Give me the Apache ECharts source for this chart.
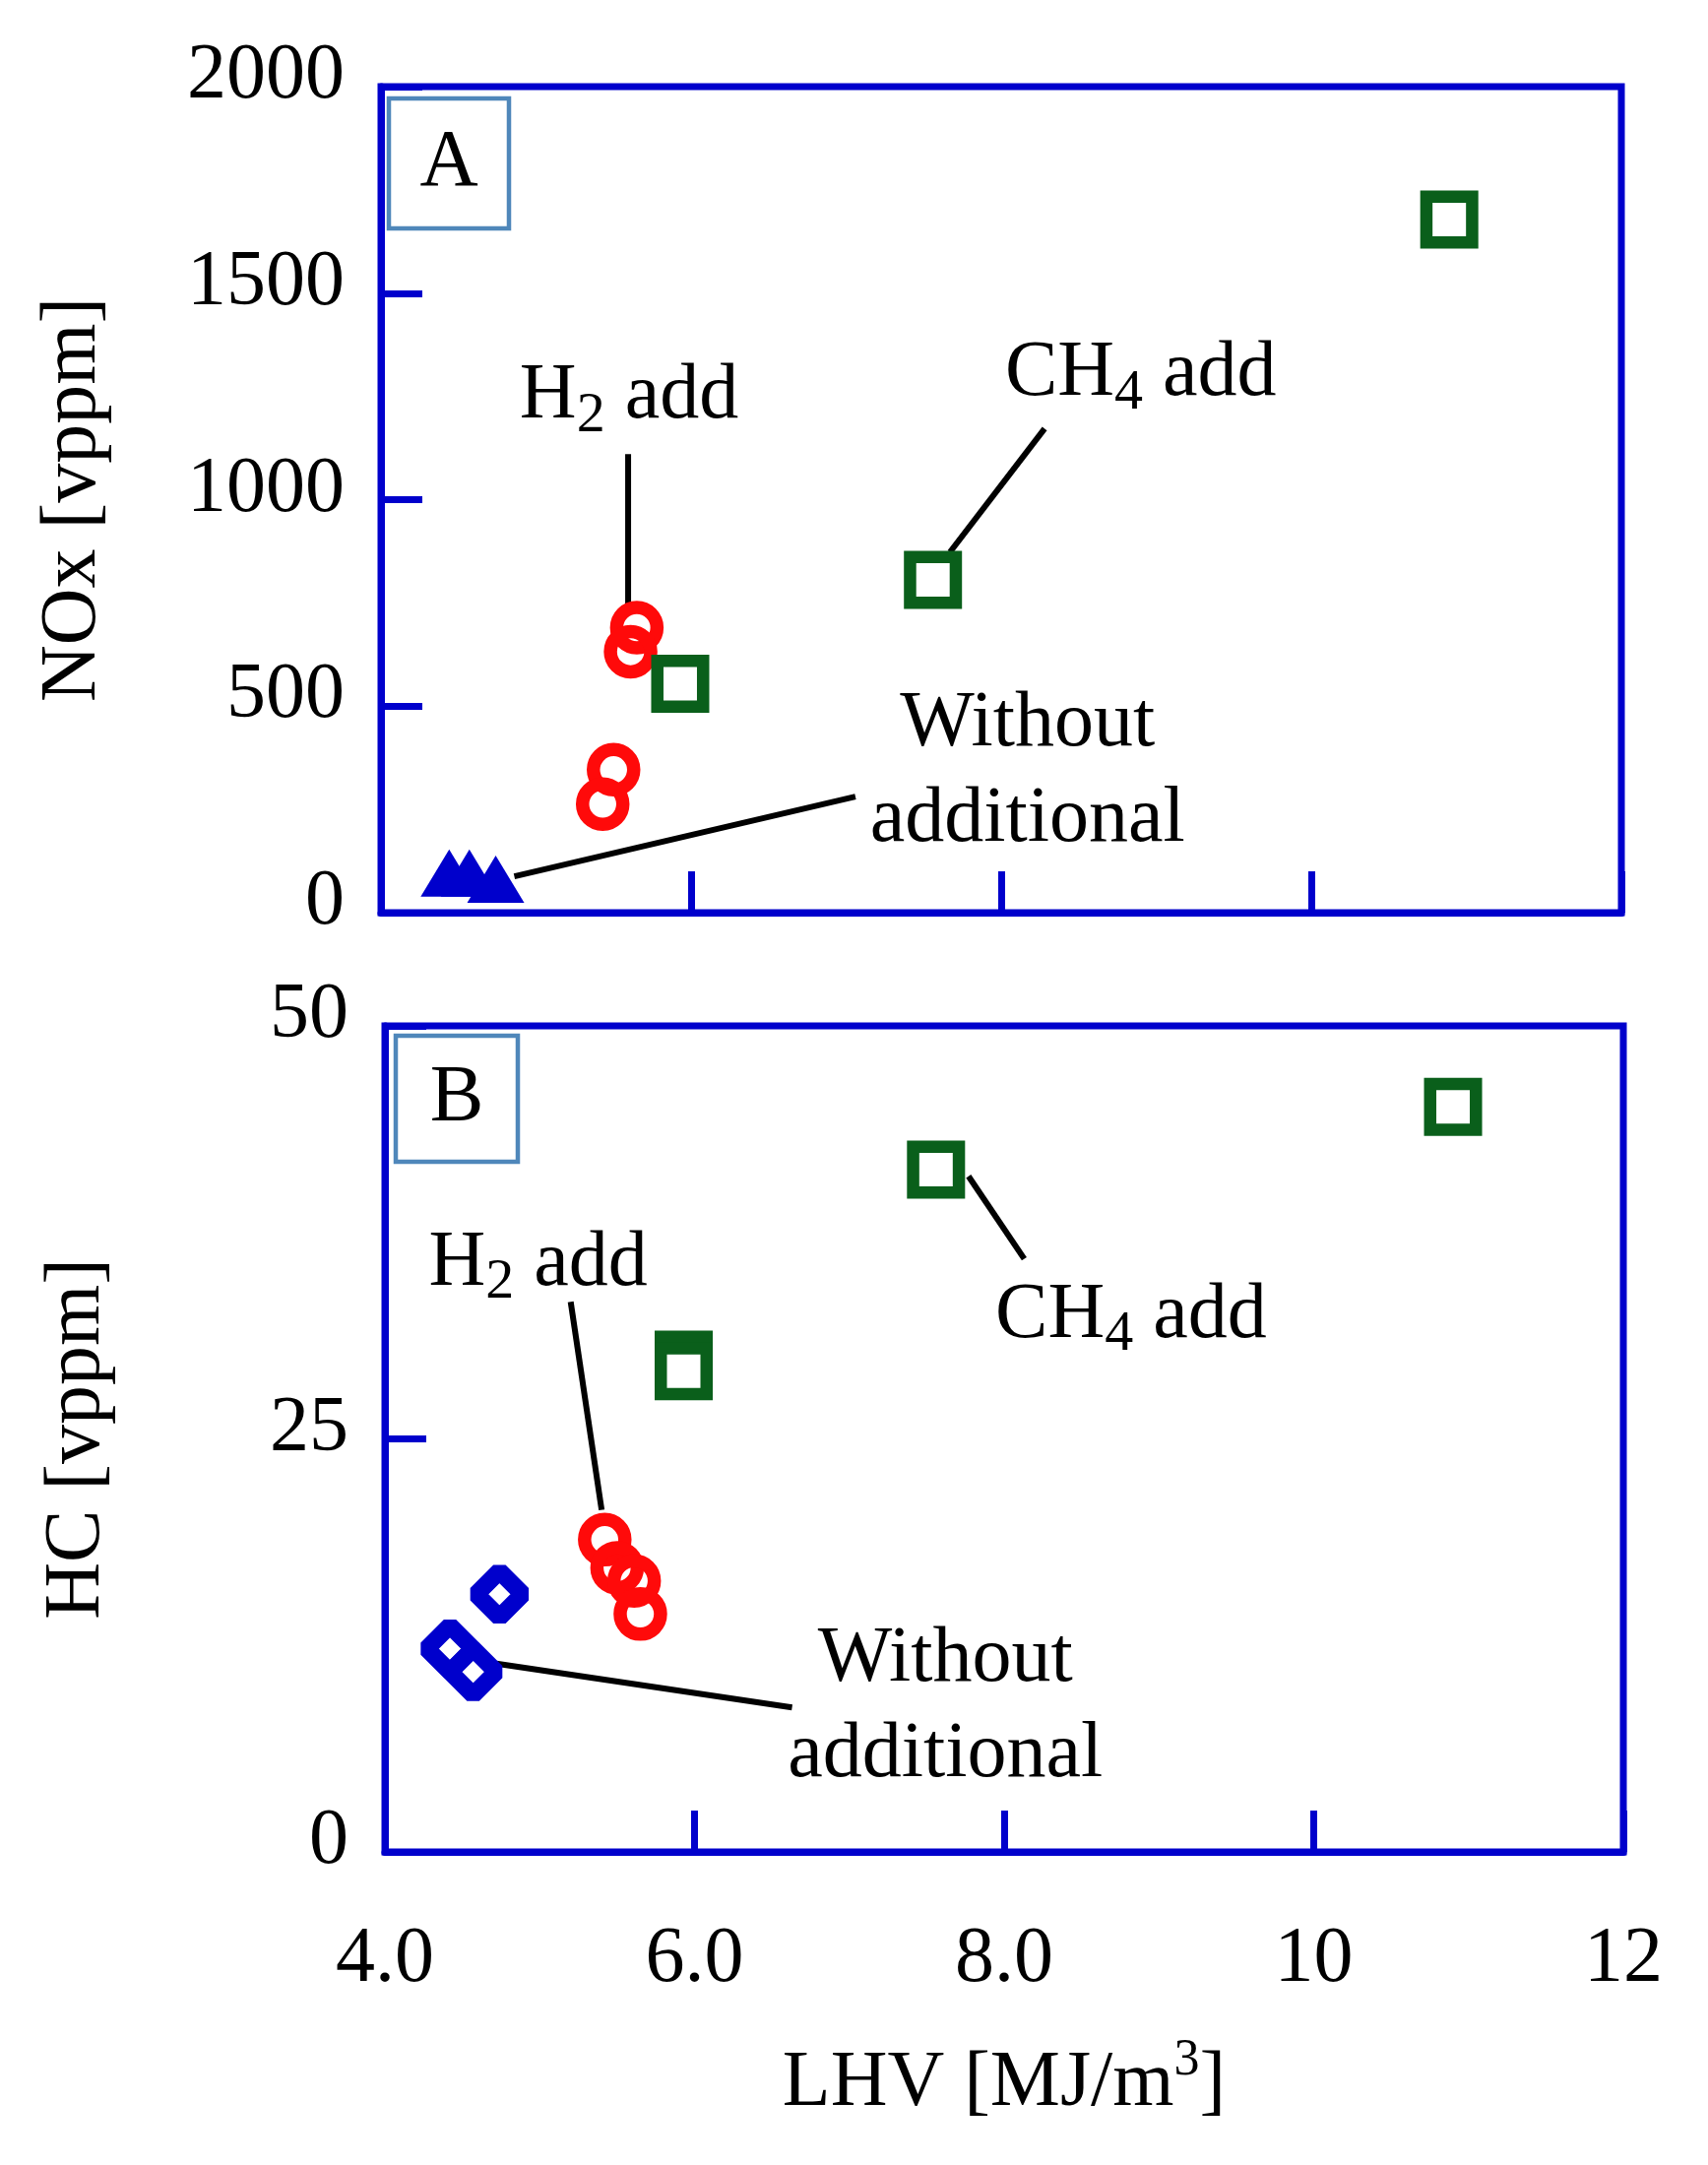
<!DOCTYPE html>
<html><head><meta charset="utf-8">
<script src="https://cdn.jsdelivr.net/npm/echarts@6/dist/echarts.min.js"></script>
<style>html,body{margin:0;padding:0;background:#fff}#c{width:1735px;height:2199px}</style>
</head><body><div id="c"></div>
<script>
// ---- data ----
const xTicks = [4, 6, 8, 10, 12];
const xTickLabels = ['4.0', '6.0', '8.0', '10', '12'];
const noxTicks = [0, 500, 1000, 1500, 2000];
const noxTickLabels = ['0', '500', '1000', '1500', '2000'];
const hcTicks = [0, 25, 50];
const hcTickLabels = ['0', '25', '50'];

// Panel A: NOx
const noxH2X = [5.65, 5.61, 5.50, 5.43];
const noxH2Y = [690, 632, 346, 263];
const noxCH4X = [5.93, 7.56, 10.89];
const noxCH4Y = [554, 806, 1678];
const noxBaseX = [4.44, 4.57, 4.74];
const noxBaseY = [96, 96, 81];

// Panel B: HC
const hcH2X = [5.42, 5.50, 5.61, 5.65];
const hcH2Y = [18.9, 17.2, 16.4, 14.4];
const hcCH4X = [5.93, 5.93, 7.56, 10.90];
const hcCH4Y = [29.8, 29.1, 41.3, 45.1];
const hcBaseX = [4.74, 4.42, 4.57];
const hcBaseY = [15.6, 12.3, 10.9];

const panelLetters = ['A', 'B'];
const yNames = ['NOx [vppm]', 'HC [vppm]'];

// ---- styles ----
const FONT = '"Liberation Serif", "Times New Roman", serif';
const BLUE = '#0000cc', RED = '#ff0a0a', GREEN = '#0a5f1b', BOX = '#4f87ba';
const pts = (xs, ys) => xs.map((x, i) => [x, ys[i]]);

// annotation layout (data coordinates of text centres and leader lines)
const annotations = [
  { g: 0, text: '{a|H}{s|2}{a| add}', at: [5.60, 1248],
    line: [[5.594, 1110], [5.594, 748]] },
  { g: 0, text: '{a|CH}{s|4}{a| add}', at: [8.90, 1303],
    line: [[8.28, 1172], [7.67, 873]] },
  { g: 0, text: '{a|Without}\n{a|additional}', at: [8.17, 339],
    line: [[7.06, 281], [4.86, 88]] },
  { g: 1, text: '{a|H}{s|2}{a| add}', at: [4.99, 35.6],
    line: [[5.20, 33.3], [5.40, 20.7]] },
  { g: 1, text: '{a|CH}{s|4}{a| add}', at: [8.82, 32.45],
    line: [[7.77, 40.9], [8.13, 35.9]] },
  { g: 1, text: '{a|Without}\n{a|additional}', at: [7.62, 8.76],
    line: [[4.72, 11.4], [6.63, 8.75]] }
];

const rich = {
  a: { fontSize: 80, fontFamily: FONT, color: '#000', lineHeight: 97 },
  s: { fontSize: 58, fontFamily: FONT, color: '#000', verticalAlign: 'bottom', lineHeight: 42 }
};

const grids = [
  { left: 387, top: 88, width: 1260, height: 839 },
  { left: 391, top: 1042, width: 1258, height: 839 }
];
const LW = 7;

function xAxisFor(i) {
  const ax = {
    gridIndex: i, type: 'value', min: xTicks[0], max: xTicks[xTicks.length - 1],
    interval: xTicks[1] - xTicks[0],
    axisLine: { lineStyle: { color: BLUE, width: LW } },
    axisTick: { inside: true, length: 42, lineStyle: { color: BLUE, width: LW } },
    splitLine: { show: false },
    axisLabel: { show: false }
  };
  if (i === 1) {
    ax.axisLabel = {
      show: true, fontSize: 80, fontFamily: FONT, color: '#000', margin: 70,
      showMinLabel: true, showMaxLabel: true,
      formatter: v => xTickLabels[xTicks.indexOf(v)]
    };
    ax.name = '{a|LHV [MJ/m}{p|3}{a|]}';
    ax.nameLocation = 'middle';
    ax.nameGap = 186;
    ax.nameTextStyle = {
      rich: {
        a: { fontSize: 80, fontFamily: FONT, color: '#000', lineHeight: 100 },
        p: { fontSize: 52, fontFamily: FONT, color: '#000', verticalAlign: 'top', lineHeight: 2 }
      }
    };
  }
  return ax;
}

function yAxisFor(i, ticks, labels) {
  return {
    gridIndex: i, type: 'value', min: ticks[0], max: ticks[ticks.length - 1],
    interval: ticks[1] - ticks[0],
    axisLine: { lineStyle: { color: BLUE, width: LW } },
    axisTick: { inside: true, length: 42, lineStyle: { color: BLUE, width: LW } },
    splitLine: { show: false },
    axisLabel: { fontSize: 80, fontFamily: FONT, color: '#000', margin: 37,
      verticalAlign: 'bottom', lineHeight: 20,
      showMinLabel: true, showMaxLabel: true,
      formatter: v => labels[ticks.indexOf(v)] },
    name: yNames[i], nameLocation: 'middle', nameGap: 272,
    nameTextStyle: { fontSize: 80, fontFamily: FONT, color: '#000' }
  };
}

const series = [];
// leader lines
annotations.forEach(a => series.push({
  type: 'line', xAxisIndex: a.g, yAxisIndex: a.g, data: a.line, showSymbol: false,
  symbol: 'none', silent: true, z: 1,
  lineStyle: { color: '#000', width: 6, opacity: 1 }
}));
// markers
const circleStyle = { symbol: 'circle', symbolSize: 41,
  itemStyle: { color: 'rgba(0,0,0,0)', borderColor: RED, borderWidth: 13.5, opacity: 1 } };
const squareStyle = { symbol: 'rect', symbolSize: 46.5,
  itemStyle: { color: '#fff', borderColor: GREEN, borderWidth: 12.5, borderJoin: 'miter', opacity: 1 } };
const triStyle = { symbol: 'triangle', symbolSize: [58, 48], itemStyle: { color: BLUE, opacity: 1 } };
const diaStyle = { symbol: 'diamond', symbolSize: 47,
  itemStyle: { color: 'rgba(0,0,0,0)', borderColor: BLUE, borderWidth: 17.5, borderJoin: 'bevel', opacity: 1 } };

function sc(g, data, st) {
  return Object.assign({ type: 'scatter', xAxisIndex: g, yAxisIndex: g, data, z: 3, silent: true }, st);
}
series.push(sc(0, pts(noxBaseX, noxBaseY), triStyle));
series.push(sc(0, pts(noxH2X, noxH2Y), circleStyle));
series.push(sc(0, pts(noxCH4X, noxCH4Y), squareStyle));
series.push(sc(1, pts(hcBaseX, hcBaseY), diaStyle));
series.push(sc(1, pts(hcH2X, hcH2Y), circleStyle));
series.push(sc(1, pts(hcCH4X, hcCH4Y), squareStyle));

// annotation texts
[0, 1].forEach(g => series.push({
  type: 'scatter', xAxisIndex: g, yAxisIndex: g, symbolSize: 0, silent: true, z: 4,
  itemStyle: { color: 'rgba(0,0,0,0)', opacity: 1 },
  data: annotations.filter(a => a.g === g).map(a => ({
    value: a.at,
    label: { show: true, position: 'inside', align: 'center', verticalAlign: 'middle',
      color: '#000', opacity: 1, formatter: a.text, rich }
  }))
}));

const letterBoxes = [
  { x: 395, y: 100, w: 122, h: 132 },
  { x: 402, y: 1052, w: 124, h: 128 }
];
const graphic = [];
letterBoxes.forEach((b, i) => {
  graphic.push({ type: 'rect', shape: { x: b.x, y: b.y, width: b.w, height: b.h },
    style: { fill: '#fff', stroke: BOX, lineWidth: 4.5 }, z: 5 });
  graphic.push({ type: 'text', x: b.x + b.w / 2, y: b.y + b.h / 2, z: 6,
    style: { text: panelLetters[i], font: '82px ' + FONT, fill: '#000',
      align: 'center', verticalAlign: 'middle' } });
});

const option = {
  animation: false,
  backgroundColor: '#fff',
  grid: grids.map(g => Object.assign({ show: true, borderColor: BLUE, borderWidth: LW,
    backgroundColor: 'transparent' }, g)),
  xAxis: [xAxisFor(0), xAxisFor(1)],
  yAxis: [yAxisFor(0, noxTicks, noxTickLabels), yAxisFor(1, hcTicks, hcTickLabels)],
  series,
  graphic
};
const chart = echarts.init(document.getElementById('c'), null, { renderer: 'canvas' });
chart.setOption(option);
</script></body></html>
